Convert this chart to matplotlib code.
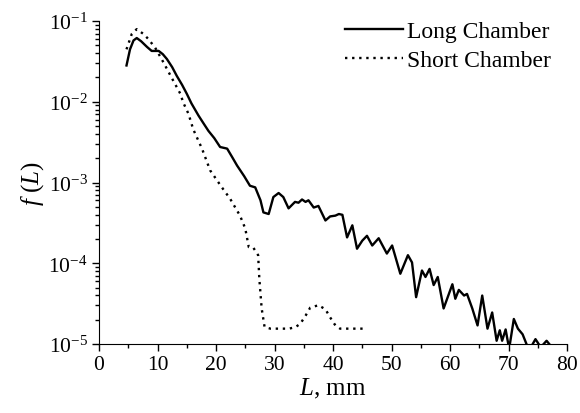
import numpy as np
import matplotlib.pyplot as plt
from matplotlib.ticker import MultipleLocator, LogLocator, LogFormatterSciNotation, NullFormatter

plt.rcParams['font.family'] = 'Liberation Serif'
plt.rcParams['mathtext.fontset'] = 'custom'
plt.rcParams['mathtext.rm'] = 'Liberation Serif'
plt.rcParams['mathtext.it'] = 'Liberation Serif:italic'

# Long chamber: L (mm), log10 f(L)
long_L = [4.7, 5.3, 5.9, 6.45, 7.2, 8.2, 9.0, 10.2, 10.9, 11.6, 12.5, 13.3, 14.2, 15.0, 15.8,
          17.0, 17.8, 18.7, 19.7, 20.7, 21.9, 22.8, 23.6, 24.8, 25.8, 26.7, 27.6, 28.1, 29.0,
          29.8, 30.7, 31.5, 32.4, 33.5, 34.1, 34.7, 35.3, 35.8, 36.7, 37.5, 38.7, 39.5, 40.4,
          41.0, 41.6, 42.4, 43.3, 44.1, 45.0, 45.8, 46.7, 47.8, 49.2, 50.1, 51.5, 52.8, 53.5,
          54.2, 55.2, 55.8, 56.5, 57.2, 57.9, 58.9, 60.4, 60.9, 61.5, 62.4, 62.9, 63.8, 64.7,
          65.5, 66.4, 67.2, 67.96, 68.5, 68.9, 69.5, 70.1, 70.9, 71.6, 72.4, 73.5, 74.6, 75.5,
          76.5, 78.3]
long_logf = [-1.55, -1.35, -1.24, -1.21, -1.25, -1.32, -1.37, -1.37, -1.41, -1.47, -1.57, -1.68,
             -1.79, -1.90, -2.02, -2.17, -2.26, -2.36, -2.45, -2.56, -2.58, -2.69, -2.79, -2.92,
             -3.04, -3.06, -3.22, -3.37, -3.39, -3.18, -3.13, -3.18, -3.32, -3.24, -3.25, -3.21,
             -3.24, -3.22, -3.31, -3.29, -3.47, -3.42, -3.41, -3.39, -3.40, -3.68, -3.53, -3.82,
             -3.72, -3.66, -3.78, -3.69, -3.88, -3.78, -4.13, -3.90, -3.99, -4.42, -4.09, -4.17,
             -4.07, -4.27, -4.17, -4.56, -4.26, -4.44, -4.33, -4.40, -4.38, -4.56, -4.77, -4.40,
             -4.81, -4.61, -4.96, -4.83, -4.96, -4.82, -5.06, -4.69, -4.81, -4.88, -5.08, -4.94,
             -5.04, -4.96, -5.12]

# Short chamber: L (mm), log10 f(L)
short_L = [4.7, 5.6, 6.45, 7.6, 8.4, 9.6, 11.0, 12.4, 13.9, 14.4, 15.3, 16.1, 17.6, 19.0, 21.0,
           22.4, 24.1, 25.0, 25.6, 26.4, 27.2, 27.4, 27.8, 28.3, 29.3, 31.0, 32.5, 33.6, 34.4,
           35.3, 36.1, 37.5, 38.7, 39.5, 40.4, 41.2, 43.0, 45.2]
short_logf = [-1.35, -1.16, -1.10, -1.16, -1.22, -1.33, -1.51, -1.70, -1.90, -2.01, -2.15, -2.34,
              -2.58, -2.85, -3.06, -3.20, -3.41, -3.57, -3.80, -3.81, -3.90, -4.19, -4.56, -4.79,
              -4.81, -4.81, -4.81, -4.79, -4.75, -4.65, -4.55, -4.52, -4.57, -4.67, -4.77, -4.81,
              -4.81, -4.81]

fig = plt.figure(figsize=(5.8, 4.14), dpi=100)
ax = fig.add_axes([0.1707, 0.1667, 0.807, 0.780])

ax.plot(long_L, 10 ** np.array(long_logf), color='black', lw=1.7, label='Long Chamber')
ax.plot(short_L, 10 ** np.array(short_logf), color='black', lw=1.7, linestyle=(0, (1, 2.0)),
        label='Short Chamber')

ax.set_yscale('log')
ax.set_xlim(0, 80)
ax.set_ylim(1e-5, 1e-1)
ax.xaxis.set_major_locator(MultipleLocator(10))
ax.xaxis.set_minor_locator(MultipleLocator(5))
ax.yaxis.set_major_locator(LogLocator(base=10, numticks=10))
ax.yaxis.set_minor_locator(LogLocator(base=10, subs=np.arange(2, 10), numticks=10))
ax.yaxis.set_minor_formatter(NullFormatter())
ax.yaxis.set_major_formatter(LogFormatterSciNotation())

for s in ['top', 'right']:
    ax.spines[s].set_visible(False)
ax.tick_params(which='both', direction='out', labelsize=15.5, width=1)
ax.tick_params(which='major', length=5, pad=3)
ax.tick_params(which='minor', length=3)

ax.set_xlabel(r'$L$, mm', fontsize=18, labelpad=1)
ax.set_ylabel(r'$f$ ($L$)', fontsize=18, labelpad=2)

ax.legend(loc='upper right', frameon=False, fontsize=17, handlelength=2.45,
          handletextpad=0.15, borderaxespad=0.0, labelspacing=0.3,
          bbox_to_anchor=(0.985, 1.03))

fig.savefig('out.png', dpi=100)
